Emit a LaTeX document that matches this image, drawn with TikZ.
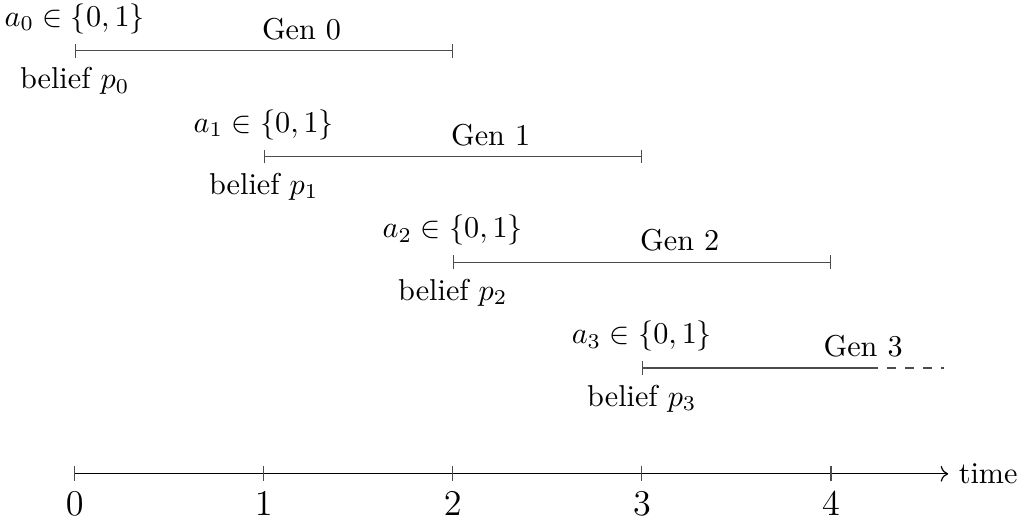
\documentclass[tikz,border=0pt]{standalone}
\usetikzlibrary{arrows.meta}
\begin{document}
\begin{tikzpicture}[x=2.2cm,y=1.231cm]
\useasboundingbox (-0.395,0.479) rectangle (5.0,-4.427);
% generations
\foreach \k in {0,1,2} {
  \coordinate (s\k) at (\k,-\k);
  \coordinate (e\k) at (\k+2,-\k);
  \draw[|-|,black!70] (s\k) -- (e\k) node[pos=0.6,above,black] (gen\k) {Gen \k};
  \node[above=2pt] (act\k) at (s\k) {$a_\k \in \{0,1\}$};
  \node[below=2pt] (bel\k) at (s\k) {belief $p_\k$};
}
% last one keeps going
\coordinate (s3) at (3,-3);
\coordinate (e3) at (4.2,-3);
\coordinate (f3) at (4.6,-3);
\draw[|-,black!70] (s3) -- (e3);
\draw[dashed,black!70] (e3) -- (f3);
\node[above] (gen3) at (4.17,-3) {Gen 3};
\node[above=2pt] (act3) at (s3) {$a_3 \in \{0,1\}$};
\node[below=2pt] (bel3) at (s3) {belief $p_3$};
% time axis
\coordinate (t0) at (0,-4);
\coordinate (tend) at (4.62,-4);
\draw[->] (t0) -- (tend) node[right] (time) {time};
\foreach \t in {0,...,4}
  \draw[black!70] (\t,-4) +(0,2.5pt) -- +(0,-2.5pt) node[below,black,font=\large] (tick\t) {$\t$};
\end{tikzpicture}
\end{document}
